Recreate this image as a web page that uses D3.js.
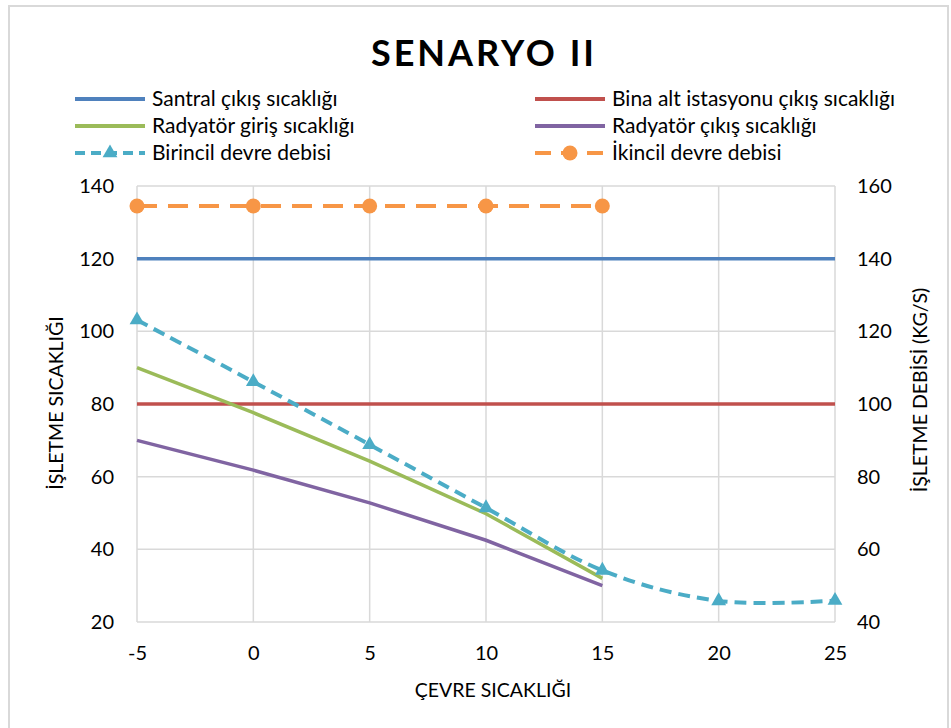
<!DOCTYPE html>
<html>
<head>
<meta charset="utf-8">
<script src="https://cdn.jsdelivr.net/npm/d3@7"></script>
<style>
  body { margin: 0; background: #fff; }
  svg { font-family: Lato, "Open Sans", sans-serif; }
</style>
</head>
<body>
<div id="chart"></div>
<script>
var W = 951, H = 728;
var margin = {top: 186, right: 116, bottom: 106, left: 137};
var width = W - margin.left - margin.right;
var height = H - margin.top - margin.bottom;

// data
var xs = [-5, 0, 5, 10, 15, 20, 25];
var santral = [120, 120, 120, 120, 120, 120, 120];
var binaAlt = [80, 80, 80, 80, 80, 80, 80];
var radGiris = [90, 77.6, 64.3, 49.8, 32];
var radCikis = [70, 61.8, 52.8, 42.5, 30];
var birincil = [123.1, 106.1, 88.8, 71.4, 54.2, 45.8, 45.9];
var ikincil = [154.5, 154.5, 154.5, 154.5, 154.5];
var leftTicks = [20, 40, 60, 80, 100, 120, 140];
var rightTicks = [40, 60, 80, 100, 120, 140, 160];

var svg = d3.select("#chart").append("svg")
    .attr("width", W)
    .attr("height", H);

// outer frame
svg.append("rect")
    .attr("x", 9).attr("y", 6)
    .attr("width", 939).attr("height", 740)
    .attr("fill", "none")
    .attr("stroke", "#d9d9d9")
    .attr("stroke-width", 2);

var g = svg.append("g")
    .attr("transform", "translate(" + margin.left + "," + margin.top + ")");

var x = d3.scaleLinear().domain([-5, 25]).range([0, width]);
var y = d3.scaleLinear().domain([20, 140]).range([height, 0]);
var y2 = d3.scaleLinear().domain([40, 160]).range([height, 0]);

// grid
g.selectAll(".hgrid").data(leftTicks).enter().append("line")
    .attr("x1", 0).attr("x2", width)
    .attr("y1", d => y(d)).attr("y2", d => y(d))
    .attr("stroke", "#d9d9d9").attr("stroke-width", 1.5);
g.selectAll(".vgrid").data(xs).enter().append("line")
    .attr("x1", d => x(d)).attr("x2", d => x(d))
    .attr("y1", 0).attr("y2", height)
    .attr("stroke", "#d9d9d9").attr("stroke-width", 1.5);

// axes
var fmt = d => String(d);
var xAxis = g.append("g")
    .attr("transform", "translate(0," + height + ")")
    .call(d3.axisBottom(x).tickValues(xs).tickFormat(fmt).tickSize(0).tickPadding(24));
var yAxis = g.append("g")
    .call(d3.axisLeft(y).tickValues(leftTicks).tickFormat(fmt).tickSize(0).tickPadding(23));
var yAxis2 = g.append("g")
    .attr("transform", "translate(" + width + ",0)")
    .call(d3.axisRight(y2).tickValues(rightTicks).tickFormat(fmt).tickSize(0).tickPadding(22));
[xAxis, yAxis, yAxis2].forEach(function(a) {
  a.select(".domain").remove();
  a.selectAll("text").attr("font-size", 20).attr("fill", "#000")
    .attr("font-family", "Lato, 'Open Sans', sans-serif");
});

// lines
var line = d3.line().x(d => x(d[0])).y(d => y(d[1]));
var line2 = d3.line().x(d => x(d[0])).y(d => y2(d[1]));
var smooth2 = d3.line().x(d => x(d[0])).y(d => y2(d[1])).curve(d3.curveCardinal.tension(0));

function pairs(vals) { return vals.map((v, i) => [xs[i], v]); }

g.append("path").datum(pairs(santral))
    .attr("d", line).attr("fill", "none")
    .attr("stroke", "#4f81bd").attr("stroke-width", 3.5);
g.append("path").datum(pairs(binaAlt))
    .attr("d", line).attr("fill", "none")
    .attr("stroke", "#c0504d").attr("stroke-width", 3.5);
g.append("path").datum(pairs(radGiris))
    .attr("d", line).attr("fill", "none")
    .attr("stroke", "#9bbb59").attr("stroke-width", 3.5);
g.append("path").datum(pairs(radCikis))
    .attr("d", line).attr("fill", "none")
    .attr("stroke", "#8064a2").attr("stroke-width", 3.5);

g.append("path").datum(pairs(birincil))
    .attr("d", smooth2).attr("fill", "none")
    .attr("stroke", "#4bacc6").attr("stroke-width", 4)
    .attr("stroke-dasharray", "12,7");
g.selectAll(".tri").data(pairs(birincil)).enter().append("path")
    .attr("d", d3.symbol().type(d3.symbolTriangle).size(95))
    .attr("transform", d => "translate(" + x(d[0]) + "," + y2(d[1]) + ")")
    .attr("fill", "#4bacc6");

g.append("path").datum(pairs(ikincil))
    .attr("d", line2).attr("fill", "none")
    .attr("stroke", "#f79646").attr("stroke-width", 4)
    .attr("stroke-dasharray", "20,11");
g.selectAll(".dot").data(pairs(ikincil)).enter().append("circle")
    .attr("cx", d => x(d[0])).attr("cy", d => y2(d[1]))
    .attr("r", 7.5).attr("fill", "#f79646");

// title
svg.append("text")
    .attr("x", 484).attr("y", 66)
    .attr("text-anchor", "middle")
    .attr("font-size", 36).attr("font-weight", "bold")
    .attr("letter-spacing", 3)
    .text("SENARYO II");

// axis titles
svg.append("text")
    .attr("x", 493).attr("y", 697)
    .attr("text-anchor", "middle").attr("font-size", 19.5)
    .text("ÇEVRE SICAKLIĞI");
svg.append("text")
    .attr("transform", "translate(63,403) rotate(-90)")
    .attr("text-anchor", "middle").attr("font-size", 19.5)
    .text("İŞLETME SICAKLIĞI");
svg.append("text")
    .attr("transform", "translate(927,390) rotate(-90)")
    .attr("text-anchor", "middle").attr("font-size", 19.5)
    .text("İŞLETME DEBİSİ (KG/S)");

// legend
var legendItems = [
  {name: "Santral çıkış sıcaklığı", color: "#4f81bd", dash: null, mark: null},
  {name: "Bina alt istasyonu çıkış sıcaklığı", color: "#c0504d", dash: null, mark: null},
  {name: "Radyatör giriş sıcaklığı", color: "#9bbb59", dash: null, mark: null},
  {name: "Radyatör çıkış sıcaklığı", color: "#8064a2", dash: null, mark: null},
  {name: "Birincil devre debisi", color: "#4bacc6", dash: "10,6", mark: "tri"},
  {name: "İkincil devre debisi", color: "#f79646", dash: "16,10", mark: "circle"}
];
var colX = [75, 535], rowY = [99, 126, 153];
legendItems.forEach(function(d, i) {
  var lx = colX[i % 2], ly = rowY[Math.floor(i / 2)];
  var lg = svg.append("g").attr("transform", "translate(" + lx + "," + ly + ")");
  lg.append("line").attr("x1", 0).attr("x2", 70).attr("y1", 0).attr("y2", 0)
    .attr("stroke", d.color).attr("stroke-width", 4)
    .attr("stroke-dasharray", d.dash);
  if (d.mark === "tri") {
    lg.append("path").attr("d", d3.symbol().type(d3.symbolTriangle).size(95))
      .attr("transform", "translate(35,0)").attr("fill", d.color);
  } else if (d.mark === "circle") {
    lg.append("circle").attr("cx", 35).attr("cy", 0).attr("r", 7.5).attr("fill", d.color);
  }
  lg.append("text").attr("x", 77).attr("y", 7).attr("font-size", 21)
    .text(d.name);
});
</script>
</body>
</html>
